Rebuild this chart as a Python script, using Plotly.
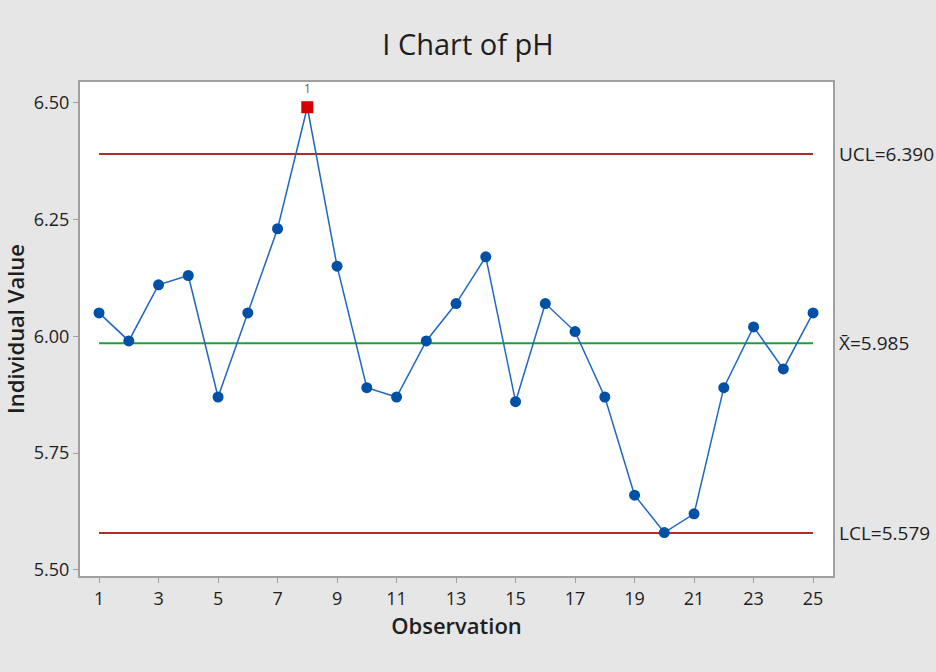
import plotly.graph_objects as go

# individual pH readings, one per observation
obs = list(range(1, 26))
ph = [6.05, 5.99, 6.11, 6.13, 5.87, 6.05, 6.23, 6.49, 6.15, 5.89,
      5.87, 5.99, 6.07, 6.17, 5.86, 6.07, 6.01, 5.87, 5.66, 5.58,
      5.62, 5.89, 6.02, 5.93, 6.05]

ucl = 6.390
mean = 5.985
lcl = 5.579

x_ticks = list(range(1, 26, 2))
y_ticks = [5.50, 5.75, 6.00, 6.25, 6.50]

FONT = "Open Sans"
TXT = "#1e1e1e"

# points outside the limits get the red square
out_x = [o for o, v in zip(obs, ph) if v > ucl or v < lcl]
out_y = [v for v in ph if v > ucl or v < lcl]

fig = go.Figure()

# control limits and centre line
for val, col in [(ucl, "#b22a2a"), (lcl, "#b22a2a"), (mean, "#1e9e3c")]:
    fig.add_trace(go.Scatter(x=[obs[0], obs[-1]], y=[val, val], mode="lines",
                             line=dict(color=col, width=2), hoverinfo="skip"))

fig.add_trace(go.Scatter(x=obs, y=ph, mode="lines+markers",
                         line=dict(color="#2166c0", width=1.5),
                         marker=dict(color="#0051a5", size=11, symbol="circle")))

fig.add_trace(go.Scatter(x=out_x, y=out_y, mode="markers",
                         marker=dict(color="#d40000", size=12, symbol="square",
                                     line=dict(color="#d40000", width=0))))

# test number over the flagged point
for xo, yo in zip(out_x, out_y):
    fig.add_annotation(x=xo, y=yo, text="1", showarrow=False, yshift=19,
                       font=dict(family=FONT, size=12, color="#6b5a45"))

labels = [(ucl, f"UCL={ucl:.3f}"), (mean, f"X\u0304={mean:.3f}"), (lcl, f"LCL={lcl:.3f}")]
for val, txt in labels:
    fig.add_annotation(x=1, xref="paper", xshift=4, y=val, yref="y", text=txt,
                       showarrow=False, xanchor="left", yanchor="middle",
                       font=dict(family=FONT, size=19, color=TXT))

fig.update_layout(
    width=936, height=672,
    margin=dict(l=80, r=103, t=82, b=96),
    paper_bgcolor="#e6e6e6", plot_bgcolor="white",
    showlegend=False,
    title=dict(text="I Chart of pH", x=0.5, xanchor="center", y=0.933, yanchor="middle",
               font=dict(family=FONT, size=29, color=TXT)),
    font=dict(family=FONT, color=TXT),
)

fig.update_xaxes(range=[0.36, 25.67], tickvals=x_ticks, showgrid=False, zeroline=False,
                 showline=True, mirror=True, linecolor="#a0a0a0", linewidth=2,
                 ticks="outside", ticklen=5, tickcolor="#a0a0a0", automargin=False,
                 tickfont=dict(family=FONT, size=18, color=TXT),
                 title=dict(text="Observation", standoff=6,
                            font=dict(family=FONT, size=22, color=TXT, weight=600)))

fig.update_yaxes(range=[5.487, 6.544], tickvals=y_ticks, tickformat=".2f", showgrid=False,
                 zeroline=False, showline=True, mirror=True, linecolor="#a0a0a0", linewidth=2,
                 ticks="outside", ticklen=5, tickcolor="#a0a0a0", automargin=False,
                 tickfont=dict(family=FONT, size=18, color=TXT),
                 title=dict(text="Individual Value", standoff=15,
                            font=dict(family=FONT, size=22, color=TXT, weight=600)))

# drop the browser's default body margin so the figure sits at the page corner
fig.write_html("out.html", config={"displayModeBar": False},
               post_script="document.body.style.margin='0';")
